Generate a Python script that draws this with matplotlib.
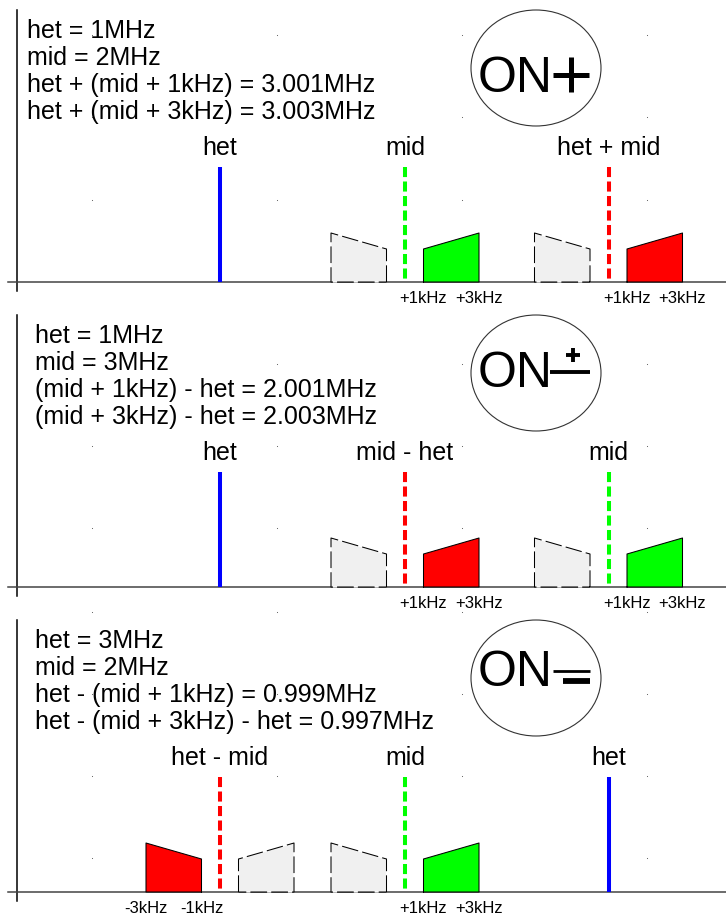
import matplotlib
matplotlib.use("Agg")
import matplotlib.pyplot as plt
from matplotlib.patches import Ellipse
import numpy as np

plt.rcParams['font.family'] = ['Liberation Sans', 'DejaVu Sans']

W, H = 726, 918
PX = 185.0          # pixels per slot unit on the x scale
X0 = 35.0           # pixel column of x = 0

# carrier slots (x units) and shape heights (pixels above the baseline)
slot_x = [1.0, 2.0, 3.1]
carrier_h = 115
sb_offset = [0.1, 0.4]      # +1kHz / +3kHz edges, in slot units
sb_height = [33, 49]        # trapezoid height at the 1kHz and 3kHz edge

BLUE, GREEN, RED, GRAY = "#0000ff", "#00ff00", "#ff0000", "#f0f0f0"

# ---- panel 1 : ON+ ----
p1_text = ["het = 1MHz", "mid = 2MHz",
           "het + (mid + 1kHz) = 3.001MHz", "het + (mid + 3kHz) = 3.003MHz"]
p1_labels = ["het", "mid", "het + mid"]
p1_colors = [BLUE, GREEN, RED]
p1_dashed = [False, True, True]
# (slot index, side, colour, show kHz labels)
p1_bands = [(1, -1, GRAY, False), (1, 1, GREEN, True),
            (2, -1, GRAY, False), (2, 1, RED, True)]

# ---- panel 2 : ON± ----
p2_text = ["het = 1MHz", "mid = 3MHz",
           "(mid + 1kHz) - het = 2.001MHz", "(mid + 3kHz) - het = 2.003MHz"]
p2_labels = ["het", "mid - het", "mid"]
p2_colors = [BLUE, RED, GREEN]
p2_dashed = [False, True, True]
p2_bands = [(1, -1, GRAY, False), (1, 1, RED, True),
            (2, -1, GRAY, False), (2, 1, GREEN, True)]

# ---- panel 3 : ON= ----
p3_text = ["het = 3MHz", "mid = 2MHz",
           "het - (mid + 1kHz) = 0.999MHz", "het - (mid + 3kHz) - het = 0.997MHz"]
p3_labels = ["het - mid", "mid", "het"]
p3_colors = [RED, GREEN, BLUE]
p3_dashed = [True, True, False]
p3_bands = [(0, -1, RED, True), (0, 1, GRAY, False),
            (1, -1, GRAY, False), (1, 1, GREEN, True)]

panels = [
    dict(text=p1_text, labels=p1_labels, colors=p1_colors, dashed=p1_dashed,
         bands=p1_bands, base=282, text_x=27, on_y=190, sym="plus"),
    dict(text=p2_text, labels=p2_labels, colors=p2_colors, dashed=p2_dashed,
         bands=p2_bands, base=587, text_x=35, on_y=200, sym="pm"),
    dict(text=p3_text, labels=p3_labels, colors=p3_colors, dashed=p3_dashed,
         bands=p3_bands, base=892, text_x=35, on_y=206, sym="eq"),
]

# faint grid dots behind everything (pixel grid)
dot_x = [92, 277, 462, 647]
dot_y = [35, 117, 200, 364, 446, 528, 612, 694, 776, 858]


def px(p):
    """pixel column -> x data value"""
    return (p - X0) / PX


fig = plt.figure(figsize=(W / 100, H / 100), dpi=100)
bg = fig.add_axes([0, 0, 1, 1])
bg.set_xlim(0, W)
bg.set_ylim(H, 0)
bg.axis('off')
gx, gy = np.meshgrid(dot_x, dot_y)
bg.scatter(gx.ravel(), gy.ravel(), s=0.6, color="#555555", linewidths=0)

for p in panels:
    top = p["base"] - 282
    ax = fig.add_axes([0, 1 - (top + 306) / H, 1, 306 / H])
    ax.patch.set_alpha(0)
    ax.set_xlim(px(0), px(W))
    ax.set_ylim(-24, 282)
    ax.axis('off')

    # axes lines
    ax.plot([px(17), px(17)], [-9, 272], color="black", lw=1.1, zorder=2)
    ax.plot([px(8), px(W)], [0, 0], color="#444444", lw=1.1, zorder=2)

    # info text
    for i, line in enumerate(p["text"]):
        ax.text(px(p["text_x"]), 244 - 27 * i, line, fontsize=18,
                va="baseline", ha="left")

    # carriers
    for x, lab, col, dsh in zip(slot_x, p["labels"], p["colors"], p["dashed"]):
        if dsh:
            ax.plot([x, x], [carrier_h, 0], color=col, lw=2.9,
                    linestyle=(0, (2.5, 1.1)), solid_capstyle="butt",
                    dash_capstyle="butt", zorder=4)
        else:
            ax.plot([x, x], [0, carrier_h], color=col, lw=2.9,
                    solid_capstyle="butt", zorder=4)
        ax.text(x, 127, lab, fontsize=18, ha="center", va="baseline")

    # sidebands
    for si, side, col, show in p["bands"]:
        c = slot_x[si]
        xs = [c + side * sb_offset[0], c + side * sb_offset[0],
              c + side * sb_offset[1], c + side * sb_offset[1]]
        ys = [0, sb_height[0], sb_height[1], 0]
        ax.fill(xs, ys, color=col, lw=0, zorder=3)
        if col == GRAY:
            ax.plot(xs + xs[:1], ys + ys[:1], color="black", lw=0.75,
                    linestyle=(0, (16, 4)), gapcolor="white", zorder=3)
        else:
            ax.plot(xs + xs[:1], ys + ys[:1], color="black", lw=0.75, zorder=3)
        if show:
            sign = "+" if side > 0 else "-"
            for off, k in zip(sb_offset, ["1kHz", "3kHz"]):
                ax.text(c + side * off, -21, sign + k, fontsize=12,
                        ha="center", va="baseline")

    # ON symbol in an ellipse
    ax.add_patch(Ellipse((px(536), 214), 130 / PX, 116, fill=False,
                         edgecolor="#333333", lw=0.8, zorder=2))
    oy = p["on_y"]
    ax.text(px(478), oy, "ON", fontsize=36, ha="left", va="baseline")
    if p["sym"] == "plus":
        ax.plot([px(553), px(589)], [oy + 17, oy + 17], color="black", lw=3.6,
                solid_capstyle="butt")
        ax.plot([px(571), px(571)], [oy, oy + 35], color="black", lw=3.6,
                solid_capstyle="butt")
    elif p["sym"] == "pm":
        ax.plot([px(550), px(590)], [oy + 15, oy + 15], color="black", lw=2.8,
                solid_capstyle="butt")
        ax.plot([px(566), px(580)], [oy + 32, oy + 32], color="black", lw=2.8,
                solid_capstyle="butt")
        ax.plot([px(573), px(573)], [oy + 25, oy + 39], color="black", lw=2.8,
                solid_capstyle="butt")
    else:
        ax.plot([px(553), px(590)], [oy + 15, oy + 15], color="black", lw=2.0,
                solid_capstyle="butt")
        ax.plot([px(563), px(590)], [oy + 5, oy + 5], color="black", lw=4.2,
                solid_capstyle="butt")

fig.savefig("out.png", dpi=100)
